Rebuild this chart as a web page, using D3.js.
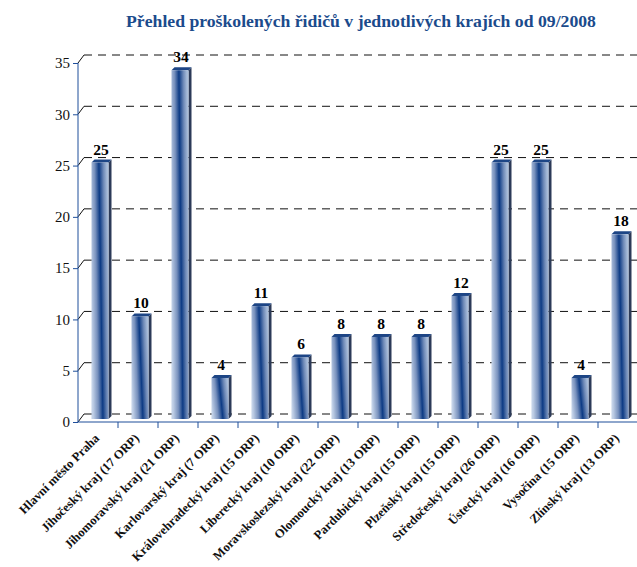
<!DOCTYPE html>
<html><head><meta charset="utf-8">
<script src="https://cdn.jsdelivr.net/npm/d3@7/dist/d3.min.js"></script>
<style>body{margin:0;background:#fff}svg{display:block}</style>
</head><body>
<svg id="c" width="637" height="567"></svg>
<script>
const categories = ["Hlavní město Praha","Jihočeský kraj (17 ORP)","Jihomoravský kraj (21 ORP)","Karlovarský kraj (7 ORP)","Královehradecký kraj (15 ORP)","Liberecký kraj (10 ORP)","Moravskoslezský kraj (22 ORP)","Olomoucký kraj (13 ORP)","Pardubický kraj (15 ORP)","Plzeňský kraj (15 ORP)","Středočeský kraj (26 ORP)","Ústecký kraj (16 ORP)","Vysočina (15 ORP)","Zlínský kraj (13 ORP)"];
const values = [25,10,34,4,11,6,8,8,8,12,25,25,4,18];
const yTicks = [0,5,10,15,20,25,30,35];
const title = "Přehled proškolených řidičů v jednotlivých krajích od 09/2008";

const svg = d3.select("#c");
const serif = "'Liberation Serif','Times New Roman',serif";
const x = d3.scaleBand().domain(categories).range([78, 638]).padding(0);
const y = d3.scaleLinear().domain([0, 35]).range([422, 63]);
const dx = 6, dy = -8; // back wall offset
const axisColor = "#1f4e9a";

const defs = svg.append("defs");
const g = defs.append("linearGradient").attr("id","barG")
  .attr("x1","0").attr("y1","0.62").attr("x2","1").attr("y2","0.38");
g.append("stop").attr("offset","0").attr("stop-color","#c2d1e7");
g.append("stop").attr("offset","0.3").attr("stop-color","#7891bd");
g.append("stop").attr("offset","0.55").attr("stop-color","#0c3a84");
g.append("stop").attr("offset","0.8").attr("stop-color","#6f8ab8");
g.append("stop").attr("offset","1").attr("stop-color","#a8bcd9");

// title
svg.append("text").attr("x", 361).attr("y", 27).attr("text-anchor","middle")
  .attr("font-family", serif).attr("font-weight","bold").attr("font-size", 17.7)
  .attr("fill","#1b4b8c").text(title);

// gridlines (back wall) + slant connectors
const grid = svg.append("g");
yTicks.forEach(t => {
  grid.append("line").attr("x1", 78+dx).attr("x2", 637).attr("y1", y(t)+dy).attr("y2", y(t)+dy)
    .attr("stroke","#111").attr("stroke-width",1).attr("stroke-dasharray","8,6");
  grid.append("line").attr("x1", 78).attr("y1", y(t)).attr("x2", 78+dx).attr("y2", y(t)+dy)
    .attr("stroke","#111").attr("stroke-width",1);
});

// bars
const bw = 17, off = 3, depth = 3;
const bars = svg.append("g");
categories.forEach((c, i) => {
  const v = values[i];
  const cx = x(c) + x.bandwidth()/2 + 2;
  const x0 = cx - bw/2, x1 = cx + bw/2;
  const yt = y(v) - off, yb = y(0) - off;
  bars.append("path").attr("d", `M${x1},${yt} L${x1+depth},${yt-depth} L${x1+depth},${yb-depth} L${x1},${yb} Z`)
    .attr("fill","#2c3a58");
  bars.append("path").attr("d", `M${x0},${yt} L${x0+depth},${yt-depth} L${x1+depth},${yt-depth} L${x1},${yt} Z`)
    .attr("fill","#1d4585");
  bars.append("rect").attr("x", x0).attr("y", yt).attr("width", bw).attr("height", yb-yt)
    .attr("fill","url(#barG)");
  bars.append("text").attr("x", cx+1).attr("y", yt-8).attr("text-anchor","middle")
    .attr("font-family", serif).attr("font-weight","bold").attr("font-size", 15.5)
    .attr("fill","#000").text(v);
});

// axes
const ya = svg.append("g").attr("transform","translate(78,0)")
  .call(d3.axisLeft(y).tickValues(yTicks).tickSize(5).tickPadding(3));
ya.select(".domain").attr("stroke", axisColor).attr("d","M0,63V422");
ya.selectAll(".tick line").attr("stroke", axisColor);
ya.selectAll(".tick text").attr("font-family", serif).attr("font-size", 15).attr("fill","#111");

const xa = svg.append("g").attr("transform","translate(0,422)");
xa.append("line").attr("x1",78).attr("x2",637).attr("y1",0).attr("y2",0).attr("stroke",axisColor).attr("stroke-width",1.2);
categories.forEach((c,i) => {
  xa.append("line").attr("x1", x(c)+x.bandwidth()).attr("x2", x(c)+x.bandwidth())
    .attr("y1",0).attr("y2",6).attr("stroke",axisColor);
  const ax = x(c) + x.bandwidth()/2 + 2, ay = 17;
  xa.append("text").attr("transform", `translate(${ax},${ay}) rotate(-45)`)
    .attr("text-anchor","end").attr("font-family", serif).attr("font-weight","bold")
    .attr("font-size", 12.6).attr("fill","#111").text(c);
});
</script>
</body></html>
